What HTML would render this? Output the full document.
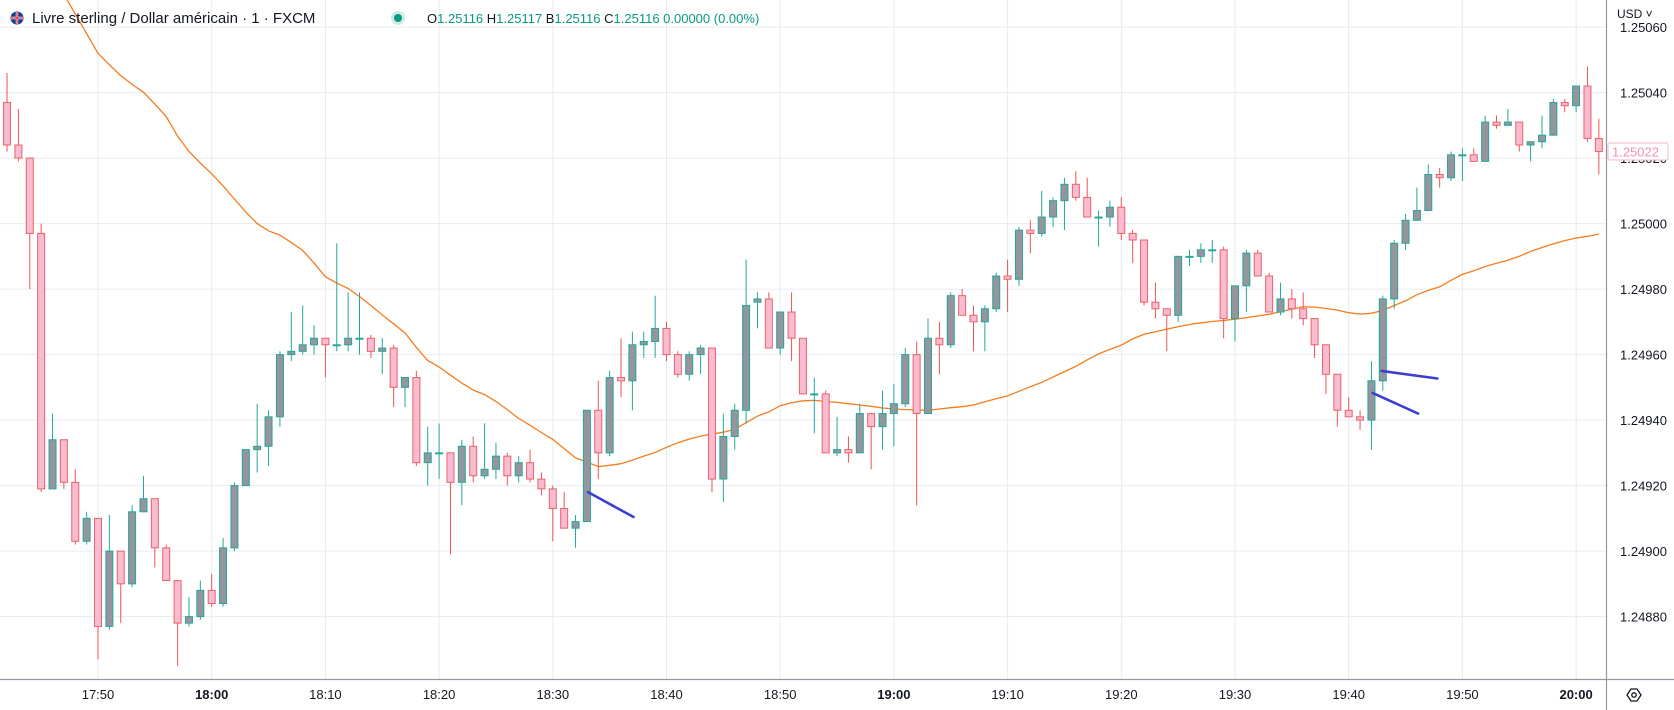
<!DOCTYPE html>
<html><head><meta charset="utf-8">
<style>
html,body{margin:0;padding:0;background:#fff;}
svg{display:block;font-family:"Liberation Sans",Arial,sans-serif;}
</style></head>
<body>
<svg id="chart" width="1674" height="710" viewBox="0 0 1674 710" xmlns="http://www.w3.org/2000/svg">
  <defs><clipPath id="plotclip"><rect x="0" y="0" width="1606" height="679"/></clipPath></defs>
  <rect x="0" y="0" width="1674" height="710" fill="#ffffff"/>
  <g id="grid"></g>
  <g id="plot" clip-path="url(#plotclip)"></g>
  <g id="yaxis"></g>
  <g id="xaxis"></g>
  <g>
    <g>
      <circle cx="17" cy="18" r="6.5" fill="#1a3c8c"/>
      <path d="M11 18h12M17 12v12" stroke="#fff" stroke-width="2.4"/>
      <path d="M11 18h12M17 12v12" stroke="#d52b3a" stroke-width="1.2"/>
    </g>
    <text x="32" y="23" font-size="15" fill="#131722">Livre sterling / Dollar américain · 1 · FXCM</text>
    <circle cx="398" cy="18" r="7" fill="#c9ede6"/>
    <circle cx="398" cy="18" r="4" fill="#089981"/>
    <text x="427" y="23" font-size="13" fill="#131722">O<tspan fill="#089981">1.25116</tspan> H<tspan fill="#089981">1.25117</tspan> B<tspan fill="#089981">1.25116</tspan> C<tspan fill="#089981">1.25116 0.00000 (0.00%)</tspan></text>
  </g>
</svg>
<script>
const times0 = "17:42";
const opens = [1.25037,1.25024,1.25020,1.24997,1.24919,1.24934,1.24921,1.24903,1.24910,1.24877,
1.24900,1.24890,1.24912,1.24916,1.24901,1.24891,1.24878,1.24880,1.24888,1.24884,
1.24901,1.24920,1.24931,1.24932,1.24941,1.24960,1.24961,1.24963,1.24965,1.24963,
1.24963,1.24965,1.24965,1.24961,1.24962,1.24950,1.24953,1.24927,1.24930,1.24930,
1.24921,1.24932,1.24923,1.24925,1.24929,1.24923,1.24927,1.24922,1.24919,1.24913,
1.24907,1.24909,1.24943,1.24930,1.24953,1.24952,1.24963,1.24964,1.24968,1.24960,
1.24954,1.24960,1.24962,1.24922,1.24935,1.24943,1.24976,1.24977,1.24962,1.24973,
1.24965,1.24948,1.24948,1.24930,1.24931,1.24930,1.24942,1.24938,1.24942,1.24945,
1.24960,1.24942,1.24965,1.24963,1.24978,1.24972,1.24970,1.24974,1.24984,1.24983,
1.24998,1.24997,1.25002,1.25007,1.25012,1.25008,1.25002,1.25002,1.25005,1.24997,
1.24995,1.24976,1.24974,1.24972,1.24990,1.24990,1.24992,1.24992,1.24971,1.24981,
1.24991,1.24984,1.24973,1.24977,1.24974,1.24971,1.24963,1.24954,1.24943,1.24941,
1.24940,1.24952,1.24977,1.24994,1.25001,1.25004,1.25015,1.25014,1.25021,1.25021,
1.25019,1.25031,1.25030,1.25031,1.25024,1.25025,1.25027,1.25037,1.25036,1.25042,1.25026];
const highs = [1.25046,1.25035,1.25020,1.25000,1.24942,1.24934,1.24925,1.24912,1.24910,1.24911,
1.24900,1.24914,1.24923,1.24916,1.24902,1.24891,1.24886,1.24891,1.24893,1.24904,
1.24921,1.24931,1.24945,1.24943,1.24961,1.24973,1.24975,1.24969,1.24965,1.24994,
1.24979,1.24979,1.24966,1.24965,1.24963,1.24953,1.24955,1.24938,1.24939,1.24930,
1.24934,1.24935,1.24939,1.24933,1.24930,1.24929,1.24931,1.24924,1.24920,1.24918,
1.24911,1.24943,1.24952,1.24955,1.24965,1.24967,1.24967,1.24978,1.24970,1.24961,
1.24961,1.24963,1.24962,1.24942,1.24945,1.24989,1.24979,1.24979,1.24973,1.24979,
1.24965,1.24953,1.24949,1.24941,1.24935,1.24945,1.24942,1.24949,1.24951,1.24962,
1.24964,1.24971,1.24970,1.24979,1.24980,1.24975,1.24975,1.24985,1.24989,1.24999,
1.25001,1.25010,1.25008,1.25014,1.25016,1.25014,1.25004,1.25007,1.25008,1.24998,
1.24995,1.24982,1.24974,1.24990,1.24992,1.24994,1.24995,1.24993,1.24981,1.24992,
1.24992,1.24985,1.24982,1.24980,1.24979,1.24971,1.24963,1.24954,1.24947,1.24943,
1.24958,1.24978,1.24995,1.25003,1.25011,1.25018,1.25017,1.25022,1.25023,1.25023,
1.25033,1.25033,1.25035,1.25031,1.25025,1.25033,1.25038,1.25038,1.25042,1.25048,1.25032];
const lows = [1.25022,1.25019,1.24980,1.24918,1.24919,1.24919,1.24902,1.24902,1.24867,1.24876,
1.24878,1.24889,1.24912,1.24895,1.24891,1.24865,1.24877,1.24879,1.24883,1.24883,
1.24900,1.24920,1.24924,1.24926,1.24938,1.24958,1.24960,1.24960,1.24953,1.24961,
1.24961,1.24960,1.24959,1.24954,1.24944,1.24944,1.24926,1.24920,1.24922,1.24899,
1.24914,1.24921,1.24922,1.24922,1.24920,1.24921,1.24921,1.24917,1.24903,1.24907,
1.24901,1.24909,1.24922,1.24929,1.24947,1.24943,1.24959,1.24959,1.24958,1.24953,
1.24952,1.24954,1.24918,1.24915,1.24931,1.24939,1.24968,1.24962,1.24960,1.24958,
1.24948,1.24936,1.24930,1.24929,1.24927,1.24930,1.24925,1.24931,1.24932,1.24944,
1.24914,1.24942,1.24954,1.24962,1.24972,1.24961,1.24961,1.24973,1.24973,1.24981,
1.24991,1.24996,1.24999,1.24998,1.25007,1.25002,1.24993,1.24999,1.24995,1.24988,
1.24975,1.24971,1.24961,1.24970,1.24987,1.24988,1.24988,1.24965,1.24964,1.24973,
1.24984,1.24973,1.24972,1.24971,1.24969,1.24959,1.24948,1.24938,1.24941,1.24937,
1.24931,1.24949,1.24974,1.24992,1.25001,1.25004,1.25011,1.25013,1.25013,1.25019,
1.25019,1.25029,1.25030,1.25022,1.25019,1.25023,1.25027,1.25034,1.25034,1.25025,1.25015];
const closes = [1.25024,1.25020,1.24997,1.24919,1.24934,1.24921,1.24903,1.24910,1.24877,1.24900,
1.24890,1.24912,1.24916,1.24901,1.24891,1.24878,1.24880,1.24888,1.24884,1.24901,
1.24920,1.24931,1.24932,1.24941,1.24960,1.24961,1.24963,1.24965,1.24963,1.24963,
1.24965,1.24965,1.24961,1.24962,1.24950,1.24953,1.24927,1.24930,1.24930,1.24921,
1.24932,1.24923,1.24925,1.24929,1.24923,1.24927,1.24922,1.24919,1.24913,1.24907,
1.24909,1.24943,1.24930,1.24953,1.24952,1.24963,1.24964,1.24968,1.24960,1.24954,
1.24960,1.24962,1.24922,1.24935,1.24943,1.24975,1.24977,1.24962,1.24973,1.24965,
1.24948,1.24948,1.24930,1.24931,1.24930,1.24942,1.24938,1.24942,1.24945,1.24960,
1.24942,1.24965,1.24963,1.24978,1.24972,1.24970,1.24974,1.24984,1.24983,1.24998,
1.24997,1.25002,1.25007,1.25012,1.25008,1.25002,1.25002,1.25005,1.24997,1.24995,
1.24976,1.24974,1.24972,1.24990,1.24990,1.24992,1.24992,1.24971,1.24981,1.24991,
1.24984,1.24973,1.24977,1.24974,1.24971,1.24963,1.24954,1.24943,1.24941,1.24940,
1.24952,1.24977,1.24994,1.25001,1.25004,1.25015,1.25014,1.25021,1.25021,1.25019,
1.25031,1.25030,1.25031,1.25024,1.25025,1.25027,1.25037,1.25036,1.25042,1.25026,1.25022];
const emaValues = [1.25100,1.25094,1.25088,1.25082,1.25076,1.25070,1.25064,1.25058,1.25052,1.250485,
1.250452,1.250425,1.250401,1.250365,1.250327,1.250267,1.25022,1.250185,1.250152,1.250115,
1.250075,1.250035,1.25,1.249978,1.249965,1.249942,1.249918,1.24988,1.249838,1.249818,
1.249802,1.249777,1.24975,1.249721,1.249694,1.249666,1.249622,1.249582,1.249562,1.249537,
1.249513,1.249492,1.249478,1.249457,1.249432,1.249405,1.249384,1.249362,1.249341,1.249313,
1.249285,1.249272,1.249258,1.249262,1.249267,1.249278,1.24929,1.249301,1.249317,1.249331,
1.249342,1.249351,1.249357,1.249363,1.249372,1.249392,1.249412,1.249425,1.249444,1.249453,
1.249459,1.24946,1.249457,1.249454,1.24945,1.249446,1.249442,1.249437,1.249434,1.249432,
1.249431,1.24943,1.249434,1.249438,1.249441,1.249446,1.249456,1.249465,1.249474,1.249488,
1.249502,1.249515,1.249532,1.249548,1.249564,1.249584,1.249602,1.249616,1.249629,1.249648,
1.249662,1.24967,1.249678,1.249685,1.249692,1.249697,1.249701,1.249704,1.249708,1.249713,
1.249718,1.249723,1.249731,1.249739,1.249746,1.249745,1.249741,1.249736,1.249728,1.249724,
1.249726,1.249735,1.24975,1.249764,1.249783,1.249796,1.249807,1.249827,1.249845,1.249856,
1.249869,1.249879,1.249888,1.2499,1.249915,1.249927,1.249938,1.249948,1.249956,1.249961,1.249968];
const priceTicks = [1.25060,1.25040,1.25020,1.25000,1.24980,1.24960,1.24940,1.24920,1.24900,1.24880];
const timeTicks = ["17:50","18:00","18:10","18:20","18:30","18:40","18:50","19:00","19:10","19:20","19:30","19:40","19:50","20:00"];
const boldTimeTicks = ["18:00","19:00","20:00"];
const lastPrice = 1.25022;
// trend-line annotations: [startMinute, startPrice, endMinute, endPrice] as minutes since 17:42
const annotStart = [[51.1, 1.24918], [120.1, 1.249483], [120.9, 1.24955]];
const annotEnd = [[55.1, 1.249104], [124.1, 1.24942], [125.8, 1.249527]];

const NS = "http://www.w3.org/2000/svg";
const startMin = 17*60+42;
function minOf(t){const p=t.split(":");return (+p[0])*60+(+p[1])-startMin;}
function xOf(i){return 98 + (i-8)*11.37;}
function yOf(p){return 223.6 - (p-1.25)*327500;}
function mk(tag, attrs, parent){const e=document.createElementNS(NS,tag);for(const k in attrs)e.setAttribute(k,attrs[k]);parent.appendChild(e);return e;}

const grid=document.getElementById('grid'), plot=document.getElementById('plot'),
      yaxis=document.getElementById('yaxis'), xaxis=document.getElementById('xaxis');

priceTicks.forEach(p=>{
  const l=mk('line',{x1:0,x2:1606,y1:yOf(p),y2:yOf(p),stroke:'#e6ebf1','stroke-width':1},grid);
  
  
  const t=mk('text',{x:1620,y:yOf(p)+5,'font-size':13,fill:'#131722'},yaxis);
  t.textContent=p.toFixed(5);
  
  
});
timeTicks.forEach(tt=>{
  const x=xOf(minOf(tt));
  const l=mk('line',{x1:x,x2:x,y1:0,y2:679,stroke:'#e6ebf1','stroke-width':1},grid);
  
  
  const t=mk('text',{x:x,y:699,'font-size':13,fill:'#131722','text-anchor':'middle','font-weight':boldTimeTicks.includes(tt)?'bold':'normal'},xaxis);
  t.textContent=tt;
  
  
});

// EMA line
let d='';
emaValues.forEach((v,i)=>{d+=(i?'L':'M')+xOf(i).toFixed(1)+' '+yOf(v).toFixed(1);});
const ema=mk('path',{d:d,fill:'none',stroke:'#f57c1f','stroke-width':1.3},plot);



// candles
for(let i=0;i<opens.length;i++){
  const x=xOf(i), o=opens[i], c=closes[i], bull=c>=o;
  const g=mk('g',{},plot);
  
  
  const w=mk('line',{x1:x,x2:x,y1:yOf(highs[i]),y2:yOf(lows[i]),stroke:bull?'#26a69a':'#ef5350','stroke-width':1},g);
  
  
  const top=yOf(Math.max(o,c)), bot=yOf(Math.min(o,c));
  const b=mk('rect',{x:x-3.5,y:top,width:7,height:Math.max(1,bot-top),fill:bull?'#94959d':'#f8bbd0',stroke:bull?'#26a69a':'#e9636b','stroke-width':1},g);
  
  
}

// annotations
annotStart.forEach((s,k)=>{
  const e=annotEnd[k];
  const l=mk('line',{x1:xOf(s[0]),y1:yOf(s[1]),x2:xOf(e[0]),y2:yOf(e[1]),stroke:'#3d3fd0','stroke-width':2.6,'stroke-linecap':'round'},plot);
  
  
});

// axes frame
const ab=mk('line',{x1:0,x2:1674,y1:679.5,y2:679.5,stroke:'#9598a1','stroke-width':1.2},xaxis);


const ar=mk('line',{x1:1606.5,x2:1606.5,y1:0,y2:710,stroke:'#9598a1','stroke-width':1.2},yaxis);


const hdrBg=mk('rect',{x:1608,y:0,width:66,height:22,fill:'#ffffff'},yaxis);


const cur=mk('text',{x:1617,y:18,'font-size':12,fill:'#131722'},yaxis);
cur.textContent='USD ˅';



// last price tag
const ty=yOf(lastPrice);
const tag=mk('rect',{x:1608,y:ty-8.5,width:60,height:17,fill:'#ffffff',stroke:'#f8b4c6','stroke-width':1,rx:2},yaxis);


const tt=mk('text',{x:1612,y:ty+5,'font-size':13,fill:'#f48fb1'},yaxis);
tt.textContent=lastPrice.toFixed(5);



// settings icon bottom-right
const ic=mk('g',{},xaxis);


mk('path',{d:'M1627 695 L1631 689 L1637 689 L1641 695 L1637 701 L1631 701 Z',fill:'none',stroke:'#131722','stroke-width':1.3},ic);
mk('circle',{cx:1634,cy:695,r:2.2,fill:'none',stroke:'#131722','stroke-width':1.3},ic);
</script>
</body></html>
